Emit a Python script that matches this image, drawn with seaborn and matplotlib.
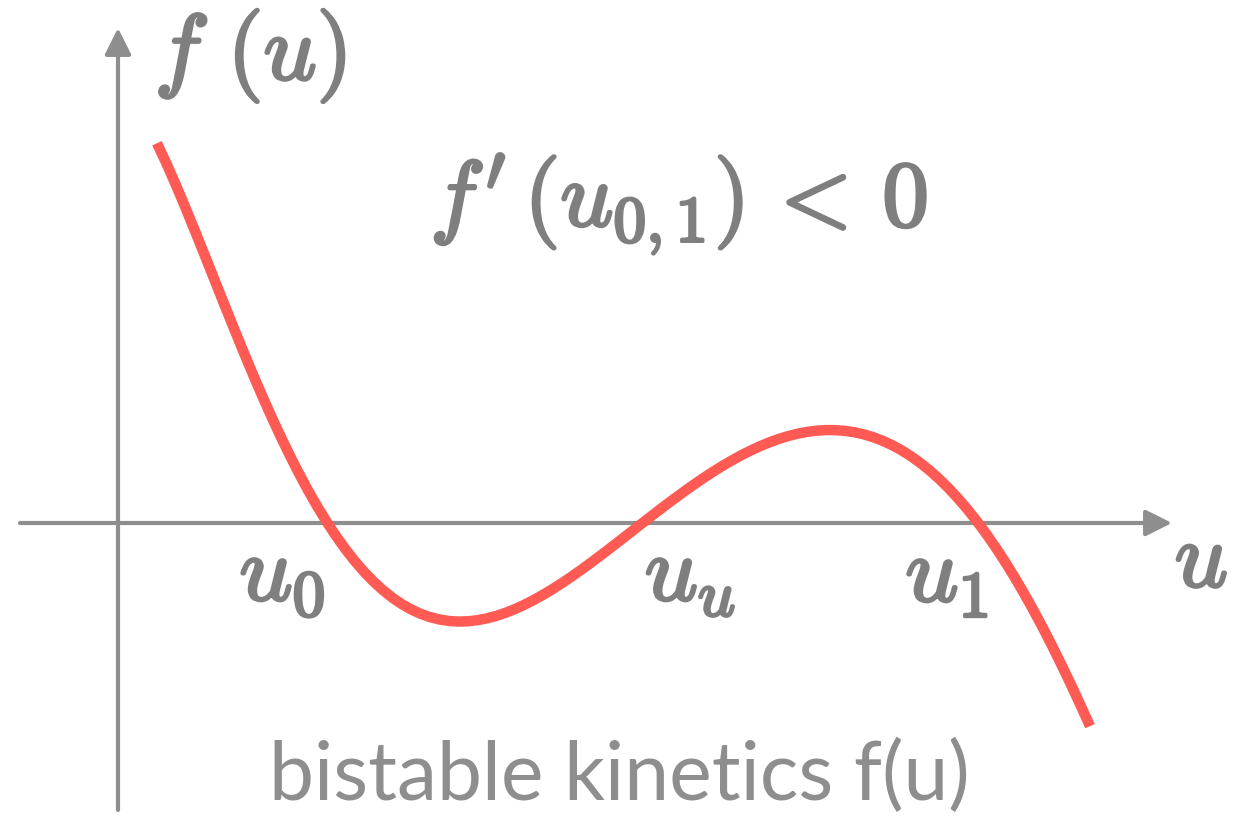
import numpy as np
import pandas as pd
import matplotlib
matplotlib.use('Agg')
import matplotlib.pyplot as plt
import matplotlib.patheffects as pe
import seaborn as sns

# curve (u along the axis, f(u) above/below it)
u_vals = [0.39, 0.57, 0.85, 1.12, 1.42, 1.75, 2.08, 2.24, 2.54, 2.82, 3.02,
          3.25, 3.52, 3.82, 4.32, 4.82, 5.02, 5.25, 5.69, 6.02, 6.35, 6.69,
          7.10, 7.52, 8.02, 8.32, 8.60, 9.00, 9.37, 9.72]
f_vals = [3.83, 3.36, 2.70, 2.03, 1.36, 0.70, 0.00, -0.27, -0.60, -0.84, -0.92,
          -0.95, -0.94, -0.87, -0.67, -0.36, -0.18, 0.00, 0.30, 0.55, 0.75, 0.90,
          0.95, 0.85, 0.59, 0.33, 0.00, -0.60, -1.27, -2.04]

root_names = [r'$u_0$', r'$u_u$', r'$u_1$']

curve = pd.DataFrame({'u': u_vals, 'f': f_vals})

sns.set_style('white')
plt.rcParams['mathtext.fontset'] = 'cm'
plt.rcParams['font.family'] = ['Lato', 'DejaVu Sans']

fig = plt.figure(figsize=(12.47, 8.19), dpi=100)
ax = fig.add_axes([0, 0, 1, 1])

gray = '#8e8e8e'
txt = '#7f7f7f'
bold = [pe.withStroke(linewidth=2.2, foreground=txt)]

# smooth curve through the read points
sns.regplot(data=curve, x='u', y='f', order=7, ci=None, scatter=False,
            truncate=True, ax=ax,
            line_kws=dict(color='#ff5a53', lw=7.5, solid_capstyle='butt'))

ax.set_xlim(-1.18, 11.29)
ax.set_ylim(-2.96, 5.23)
ax.axis('off')

# axes drawn as arrows
arrow = dict(arrowstyle='-|>', color=gray, lw=3, mutation_scale=40,
             shrinkA=0, shrinkB=0)
ax.annotate('', xy=(10.54, 0), xytext=(-0.98, 0), arrowprops=arrow, zorder=1)
ax.annotate('', xy=(0, 4.95), xytext=(0, -2.87), arrowprops=arrow, zorder=1)

ax.text(0.124, 0.932, r'$f\ (u)$', transform=ax.transAxes, fontsize=67,
        color=txt, ha='left', va='center', path_effects=bold)
ax.text(0.345, 0.75, r"$f'\,(u_{0,1})\,<\,0$", transform=ax.transAxes,
        fontsize=67, color=txt, ha='left', va='center', path_effects=bold)
ax.text(0.942, 0.315, r'$u$', transform=ax.transAxes, fontsize=67,
        color=txt, ha='left', va='center', path_effects=bold)

for name, xp in zip(root_names, [0.192, 0.517, 0.726]):
    ax.text(xp, 0.295, name, transform=ax.transAxes, fontsize=67,
            color=txt, ha='left', va='center', path_effects=bold)

ax.text(0.497, 0.052, 'bistable kinetics f(u)', transform=ax.transAxes,
        fontsize=58, color=gray, ha='center', va='center')

fig.savefig('out.png', dpi=100, facecolor='white')
